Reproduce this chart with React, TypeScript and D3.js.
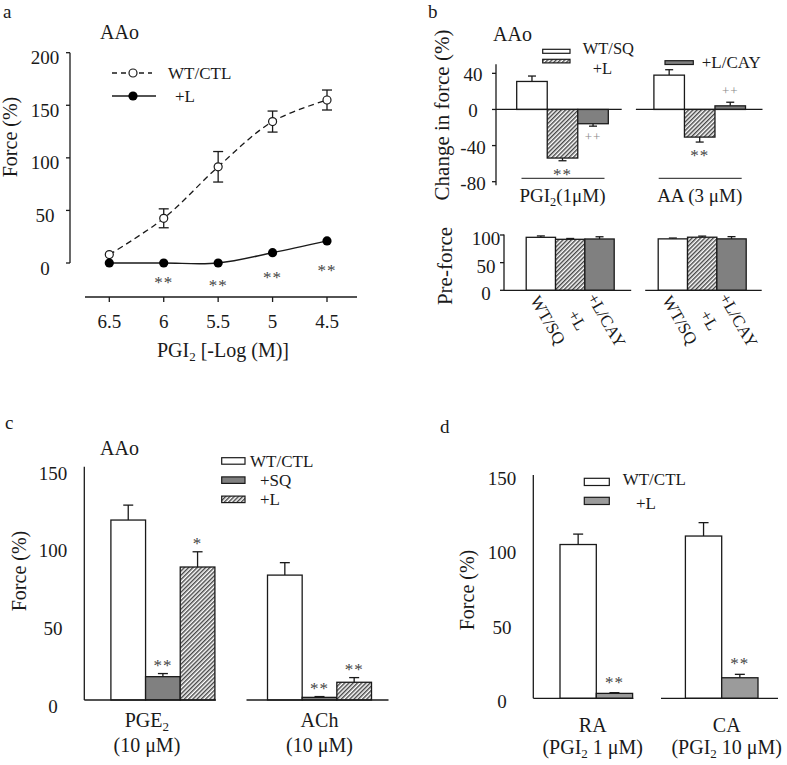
import React from 'react';
import * as d3 from 'd3';

const FONT = "'Liberation Serif', 'Times New Roman', Times, serif";
const INK = '#1a1a1a';
const GRAY = '#808080';
const GRAY_D = '#9b9b9b';
const STAR = '#444444';
const PLUS = '#8a8a8a';

// ---------- panel a ----------
const aDoses = [6.5, 6, 5.5, 5, 4.5];
const aDoseLabels = ['6.5', '6', '5.5', '5', '4.5'];
const aYTicks = [0, 50, 100, 150, 200];
const aCtl = [8, 42.5, 91.5, 134.5, 155];
const aCtlErr = [0, 9, 14.5, 10, 9.5];
const aL = [0, 0, 0, 9.8, 21];
const aStarLevel = [null, -16, -19, -11.5, -5];
const aLegend = ['WT/CTL', '+L'];

// ---------- panel b ----------
const bGroups = ['PGI2', 'AA'];
const bSeries = ['WT/SQ', '+L', '+L/CAY'];
const bChange = [[31, -53.8, -15.8], [38, -30.6, 4]];
const bChangeErr = [[6, 3, 2.7], [6, 5.5, 4]];
const bChangeMarks = [['', '**', '++'], ['', '**', '++']];
const bYTicks = [40, 0, -40, -80];
const bPre = [[95.8, 92.2, 92.8], [93, 96, 93]];
const bPreErr = [[2.5, 1.5, 4], [1.5, 2, 4]];
const bPreTicks = [0, 50, 100];
const bGroupLabels: [string, boolean?][][] = [[['PGI'], ['2', true], ['(1μM)']], [['AA (3 μM)']]];

// ---------- panel c ----------
const cGroups = ['PGE2', 'ACh'];
const cSeries = ['WT/CTL', '+SQ', '+L'];
const cForce = [[115.7, 15, 85.5], [80.3, 1.7, 11.4]];
const cErr = [[9.6, 2, 9.8], [8, 0.5, 3]];
const cMarks = [['', '**', '*'], ['', '**', '**']];
const cYTicks = [0, 50, 100, 150];
const cGroupLabels: [string, boolean?][][] = [[['PGE'], ['2', true]], [['ACh']]];
const cGroupSub = ['(10 μM)', '(10 μM)'];

// ---------- panel d ----------
const dGroups = ['RA', 'CA'];
const dSeries = ['WT/CTL', '+L'];
const dForce = [[103.3, 3.3], [109, 13.8]];
const dErr = [[7, 0.5], [9, 2.3]];
const dMarks = [['', '**'], ['', '**']];
const dYTicks = [0, 50, 100, 150];
const dGroupSub: [string, boolean?][][] = [[['(PGI'], ['2', true], [' 1 μM)']], [['(PGI'], ['2', true], [' 10 μM)']]];

type Part = [string, boolean?];

function Rich({ parts, x, y, size, anchor = 'middle', transform }: any) {
  const sh = size * 0.2;
  return (
    <text x={x} y={y} fontSize={size} textAnchor={anchor} fontFamily={FONT} fill={INK}
      transform={transform} style={{ whiteSpace: 'pre' }}>
      {(parts as Part[]).map(([s, sub], i) => {
        const prevSub = i > 0 && parts[i - 1][1];
        if (sub) return <tspan key={i} fontSize={size * 0.65} dy={sh}>{s}</tspan>;
        return <tspan key={i} dy={prevSub ? -sh : 0}>{s}</tspan>;
      })}
    </text>
  );
}

function Txt(p: any) {
  return <text fontFamily={FONT} fill={INK} style={{ whiteSpace: 'pre' }} {...p} />;
}

function markBaseline(center: number, mark: string, fs: number) {
  return mark.startsWith('+') ? center + fs * 0.3 : center + fs * 0.47;
}

// generic grouped bars
function BarSet({ groups, series, values, errs, gx, bx, y, fills, capW, marks, markGap, stroke = INK }: any) {
  const out: any[] = [];
  groups.forEach((g: string, gi: number) => {
    series.forEach((s: string, si: number) => {
      const v = values[gi][si];
      const e = errs[gi][si];
      const x0 = gx(g) + bx(s);
      const w = bx.bandwidth();
      const cx = x0 + w / 2;
      const y0 = y(0);
      const yv = y(v);
      const ye = v >= 0 ? y(v + e) : y(v - e);
      out.push(
        <g key={`${gi}-${si}`}>
          <line x1={cx} x2={cx} y1={yv} y2={ye} stroke={stroke} strokeWidth={1.3} />
          <line x1={cx - capW / 2} x2={cx + capW / 2} y1={ye} y2={ye} stroke={stroke} strokeWidth={1.3} />
          <rect x={x0} y={Math.min(y0, yv)} width={w} height={Math.abs(yv - y0)}
            fill={fills[si]} stroke={stroke} strokeWidth={1.3} />
        </g>
      );
      const m = marks ? marks[gi][si] : '';
      if (m) {
        const isPlus = m.startsWith('+');
        const fs = isPlus ? 13 : 17;
        const center = v >= 0 ? ye - markGap : ye + markGap;
        out.push(
          <Txt key={`m${gi}-${si}`} x={cx} y={markBaseline(center, m, fs)} fontSize={fs}
            textAnchor="middle" fill={isPlus ? PLUS : STAR} letterSpacing={1}>{m}</Txt>
        );
      }
    });
  });
  return <g>{out}</g>;
}

function Baselines({ gx, half, groups, axisX, y0, pads }: any) {
  const g1 = gx(groups[0]);
  const g2 = gx(groups[1]);
  return (
    <g stroke={INK} strokeWidth={1.3}>
      <line x1={axisX} x2={g1 + half + pads[0]} y1={y0} y2={y0} />
      <line x1={g2 - half + pads[1]} x2={g2 + half + pads[2]} y1={y0} y2={y0} />
    </g>
  );
}

function YAxis({ x, y, ticks, top, bottom, labelX, labelDy, tick = 0, fs = 19 }: any) {
  return (
    <g>
      <line x1={x} x2={x} y1={y(top)} y2={y(bottom)} stroke={INK} strokeWidth={1.3} />
      {ticks.map((t: number) => (
        <g key={t}>
          {tick > 0 && <line x1={x - tick} x2={x} y1={y(t)} y2={y(t)} stroke={INK} strokeWidth={1.3} />}
          <Txt x={labelX} y={y(t) + labelDy} fontSize={fs} textAnchor="middle">{String(t)}</Txt>
        </g>
      ))}
    </g>
  );
}

function PanelA() {
  const x = d3.scaleLinear().domain([6.5, 4.5]).range([109.3, 327]);
  const y = d3.scaleLinear().domain([0, 200]).range([263, 52.7]);
  const line = d3.line<number>().x((_, i) => x(aDoses[i])).y((d) => y(d)).curve(d3.curveCatmullRom.alpha(0.5));
  return (
    <g>
      <Txt x={3} y={18} fontSize={19}>a</Txt>
      <Txt x={100} y={39} fontSize={20}>AAo</Txt>
      <YAxis x={70} y={y} ticks={aYTicks} top={200} bottom={0} labelX={45} labelDy={11.5} tick={4} />
      <Txt transform="translate(17,137) rotate(-90)" fontSize={20} textAnchor="middle">Force (%)</Txt>
      <line x1={85} x2={357} y1={297} y2={297} stroke={INK} strokeWidth={1.3} />
      {aDoses.map((d, i) => (
        <g key={d}>
          <line x1={x(d)} x2={x(d)} y1={297} y2={302} stroke={INK} strokeWidth={1.3} />
          <Txt x={x(d)} y={328} fontSize={19} textAnchor="middle">{aDoseLabels[i]}</Txt>
        </g>
      ))}
      <Rich parts={[['PGI'], ['2', true], [' [-Log (M)]']]} x={223} y={357} size={20} />
      <path d={line(aCtl) || ''} fill="none" stroke={INK} strokeWidth={1.3} strokeDasharray="6,4" />
      <path d={line(aL) || ''} fill="none" stroke={INK} strokeWidth={1.4} />
      {aDoses.map((d, i) => {
        const e = aCtlErr[i];
        const cx = x(d);
        return e > 0 ? (
          <g key={'e' + i} stroke={INK} strokeWidth={1.3}>
            <line x1={cx} x2={cx} y1={y(aCtl[i] - e)} y2={y(aCtl[i] + e)} />
            <line x1={cx - 5} x2={cx + 5} y1={y(aCtl[i] + e)} y2={y(aCtl[i] + e)} />
            <line x1={cx - 5} x2={cx + 5} y1={y(aCtl[i] - e)} y2={y(aCtl[i] - e)} />
          </g>
        ) : null;
      })}
      {aDoses.map((d, i) => (
        <circle key={'o' + i} cx={x(d)} cy={y(aCtl[i])} r={4} fill="#fff" stroke={INK} strokeWidth={1.2} />
      ))}
      {aDoses.map((d, i) => (
        <circle key={'f' + i} cx={x(d)} cy={y(aL[i])} r={4.6} fill="#000" />
      ))}
      {aDoses.map((d, i) => {
        const s = aStarLevel[i];
        return s === null ? null : (
          <Txt key={'s' + i} x={x(d)} y={markBaseline(y(s), '*', 17)} fontSize={17} textAnchor="middle"
            fill={STAR} letterSpacing={1}>**</Txt>
        );
      })}
      {/* legend */}
      <line x1={112} x2={152} y1={73} y2={73} stroke={INK} strokeWidth={1.3} strokeDasharray="5,4" />
      <circle cx={133} cy={73} r={4} fill="#fff" stroke={INK} strokeWidth={1.2} />
      <Txt x={168} y={79} fontSize={17}>{aLegend[0]}</Txt>
      <line x1={112} x2={156} y1={96} y2={96} stroke={INK} strokeWidth={1.4} />
      <circle cx={133} cy={96} r={4.6} fill="#000" />
      <Txt x={175} y={102} fontSize={17}>{aLegend[1]}</Txt>
    </g>
  );
}

function PanelB() {
  const fills = ['#fff', 'url(#hatch)', GRAY];
  const yTop = d3.scaleLinear().domain([-80, 50]).range([181.7, 64.3]);
  const gxTop = d3.scalePoint().domain(bGroups).range([562.5, 699.7]);
  const bxTop = d3.scaleBand().domain(bSeries).range([-45.8, 45.8]);
  const yPre = d3.scaleLinear().domain([0, 100]).range([290.3, 235]);
  const gxPre = d3.scalePoint().domain(bGroups).range([570.2, 702.2]);
  const bxPre = d3.scaleBand().domain(bSeries).range([-44, 44]);
  const labelDx = [2, 2, 2];
  return (
    <g>
      <Txt x={428} y={18} fontSize={19}>b</Txt>
      <Txt x={493} y={41} fontSize={20}>AAo</Txt>
      {/* legend */}
      <rect x={542.7} y={49.3} width={27.3} height={4} fill="#fff" stroke={INK} strokeWidth={1.2} />
      <rect x={542.7} y={59.3} width={27.3} height={3.6} fill="url(#hatch)" stroke={INK} strokeWidth={1.2} />
      <Txt x={582.7} y={54} fontSize={16.5}>{bSeries[0]}</Txt>
      <Txt x={592.7} y={74} fontSize={16.5}>{bSeries[1]}</Txt>
      <rect x={665} y={60.7} width={28.3} height={3.8} fill={GRAY} stroke={INK} strokeWidth={1.2} />
      <Txt x={701.7} y={68} fontSize={17}>{bSeries[2]}</Txt>

      <YAxis x={496} y={yTop} ticks={bYTicks} top={50} bottom={-84} labelX={473} labelDy={8} tick={4} />
      <Txt transform="translate(449,115) rotate(-90)" fontSize={21} textAnchor="middle">Change in force (%)</Txt>
      <BarSet groups={bGroups} series={bSeries} values={bChange} errs={bChangeErr} gx={gxTop} bx={bxTop}
        y={yTop} fills={fills} capW={8} marks={bChangeMarks} markGap={11} />
      <Baselines gx={gxTop} half={45.8} groups={bGroups} axisX={496} y0={yTop(0)} pads={[13.4, -18, 17]} />
      {bGroups.map((g, i) => (
        <g key={g}>
          <line x1={gxTop(g)! - 41} x2={gxTop(g)! + 42} y1={178.3} y2={178.3} stroke={INK} strokeWidth={1} />
          <Rich parts={bGroupLabels[i]} x={gxTop(g)} y={202} size={19} />
        </g>
      ))}

      <YAxis x={504} y={yPre} ticks={bPreTicks} top={101} bottom={0} labelX={486} labelDy={10} tick={4} />
      <Txt transform="translate(452,266) rotate(-90)" fontSize={21} textAnchor="middle">Pre-force</Txt>
      <BarSet groups={bGroups} series={bSeries} values={bPre} errs={bPreErr} gx={gxPre} bx={bxPre}
        y={yPre} fills={fills} capW={8} />
      <Baselines gx={gxPre} half={44} groups={bGroups} axisX={504} y0={yPre(0)} pads={[17, -13, 15.5]} />
      {bGroups.map((g) =>
        bSeries.map((s, si) => {
          const cx = gxPre(g)! + bxPre(s)! + bxPre.bandwidth() / 2 + labelDx[si];
          return (
            <Txt key={g + s} transform={`translate(${cx},323) rotate(60)`} fontSize={17} textAnchor="middle">{s}</Txt>
          );
        })
      )}
    </g>
  );
}

function PanelC() {
  const fills = ['#fff', GRAY, 'url(#hatch)'];
  const y = d3.scaleLinear().domain([0, 150]).range([700, 466.7]);
  const gx = d3.scalePoint().domain(cGroups).range([162.9, 319.5]);
  const bx = d3.scaleBand().domain(cSeries).range([-52, 52]);
  const labelOff = [-16, 0];
  return (
    <g>
      <Txt x={5} y={429} fontSize={19}>c</Txt>
      <Txt x={100} y={455} fontSize={20}>AAo</Txt>
      <YAxis x={84.3} y={y} ticks={cYTicks} top={150} bottom={0} labelX={53} labelDy={13} />
      <Txt transform="translate(26,571) rotate(-90)" fontSize={20} textAnchor="middle">Force (%)</Txt>
      <BarSet groups={cGroups} series={cSeries} values={cForce} errs={cErr} gx={gx} bx={bx}
        y={y} fills={fills} capW={10} marks={cMarks} markGap={11} />
      <Baselines gx={gx} half={52} groups={cGroups} axisX={84.3} y0={y(0)} pads={[1, -21, 17]} />
      {cGroups.map((g, i) => (
        <g key={g}>
          <Rich parts={cGroupLabels[i]} x={gx(g)! + labelOff[i]} y={727} size={20} />
          <Txt x={gx(g)! + labelOff[i]} y={752} fontSize={20} textAnchor="middle">{cGroupSub[i]}</Txt>
        </g>
      ))}
      {/* legend */}
      {cSeries.map((s, i) => (
        <g key={s}>
          <rect x={221.7} y={457.7 + i * 19.2} width={23.3} height={6.5} fill={fills[i]} stroke={INK} strokeWidth={1.2} />
          <Txt x={i === 0 ? 250 : 260} y={467 + i * 19} fontSize={17}>{s}</Txt>
        </g>
      ))}
    </g>
  );
}

function PanelD() {
  const fills = ['#fff', GRAY_D];
  const y = d3.scaleLinear().domain([0, 150]).range([698.3, 475]);
  const gx = d3.scalePoint().domain(dGroups).range([596.3, 721.7]);
  const bx = d3.scaleBand().domain(dSeries).range([-36.3, 36.3]);
  const labelOff = [-3.6, 5];
  return (
    <g>
      <Txt x={440} y={433} fontSize={19}>d</Txt>
      <YAxis x={533.3} y={y} ticks={dYTicks} top={150} bottom={0} labelX={502} labelDy={10} />
      <Txt transform="translate(474,590) rotate(-90)" fontSize={20} textAnchor="middle">Force (%)</Txt>
      <BarSet groups={dGroups} series={dSeries} values={dForce} errs={dErr} gx={gx} bx={bx}
        y={y} fills={fills} capW={10} marks={dMarks} markGap={13} />
      <Baselines gx={gx} half={36.3} groups={dGroups} axisX={533.3} y0={y(0)} pads={[0.7, -24.4, 20]} />
      {dGroups.map((g, i) => (
        <g key={g}>
          <Txt x={gx(g)! + labelOff[i]} y={731.7} fontSize={20} textAnchor="middle">{g}</Txt>
          <Rich parts={dGroupSub[i]} x={gx(g)! + labelOff[i]} y={754} size={20} />
        </g>
      ))}
      {dSeries.map((s, i) => (
        <g key={s}>
          <rect x={584.3} y={478.3 + i * 19} width={25} height={7.2} fill={fills[i]} stroke={INK} strokeWidth={1.2} />
          <Txt x={i === 0 ? 622.7 : 636} y={485 + i * 24} fontSize={17}>{s}</Txt>
        </g>
      ))}
    </g>
  );
}

export default function App() {
  return (
    <svg width={787} height={765} viewBox="0 0 787 765"
      style={{ position: 'absolute', left: 0, top: 0, background: '#fff' }}>
      <defs>
        <pattern id="hatch" patternUnits="userSpaceOnUse" width={3} height={3} patternTransform="rotate(45)">
          <rect width={3} height={3} fill="#fff" />
          <line x1={0.75} y1={0} x2={0.75} y2={3} stroke="#333" strokeWidth={1.3} />
        </pattern>
      </defs>
      <rect width={787} height={765} fill="#fff" />
      <PanelA />
      <PanelB />
      <PanelC />
      <PanelD />
    </svg>
  );
}
